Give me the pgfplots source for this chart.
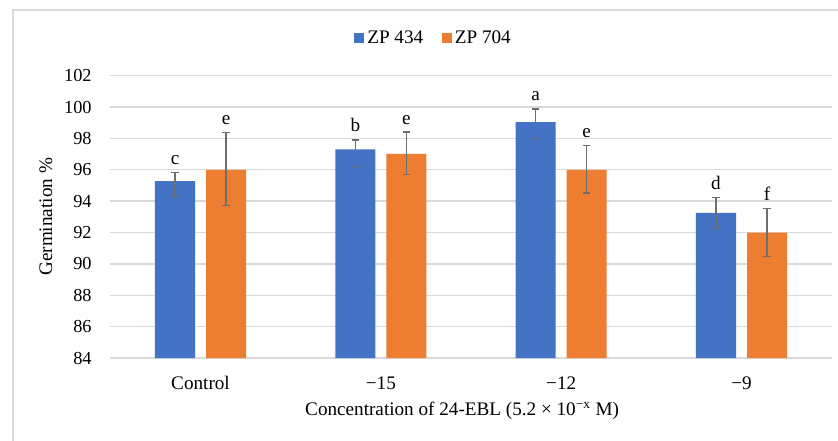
\documentclass[border=0pt]{standalone}
\usepackage{pgfplots}
\pgfplotsset{compat=1.18}
\usepackage{fontspec}
\setmainfont{Liberation Serif}
\definecolor{zpblue}{HTML}{4472C4}
\definecolor{zporange}{HTML}{ED7D31}
\definecolor{gridgray}{HTML}{D9D9D9}
\definecolor{errgray}{HTML}{6E6E6E}
\begin{document}
\begin{tikzpicture}
\useasboundingbox (-66pt,-49.8pt) rectangle (436.8pt,214.8pt);
\fill[white] (-66pt,-49.8pt) rectangle (436.8pt,214.8pt);
\draw[gridgray, line width=0.8pt] (436.8pt,208.8pt) -- (-58.2pt,208.8pt) -- (-58.2pt,-49.8pt);
\begin{axis}[
  at={(0,0)}, anchor=south west,
  scale only axis, width=433pt, height=169.4pt,
  ymin=84, ymax=102, ytick={84,86,...,102},
  yticklabels={84,86,88,90,92,94,96,98,100,102},
  xmin=-0.502, xmax=3.5, xtick={0,1,2,3},
  xticklabels={Control,−15,−12,−9},
  /pgf/number format/assume math mode=true,
  axis line style={draw=none},
  tick style={draw=none},
  ymajorgrids,
  major grid style={gridgray, line width=0.8pt},
  ybar, bar width=0.222,
  font=\fontsize{11.5}{13}\selectfont,
  yticklabel style={font=\fontsize{11}{13}\selectfont, anchor=east, inner sep=0pt, xshift=-10.8pt},
  xticklabel style={font=\fontsize{11.5}{13}\selectfont, anchor=center, inner sep=0pt, yshift=-10.8pt},
  xlabel={Concentration of 24-EBL (5.2 × 10\textsuperscript{−x} M)},
  xlabel style={at={(axis description cs:0.488,-0.1877)}, anchor=center, inner sep=0pt},
  ylabel={Germination \%},
  ylabel style={at={(axis description cs:-0.0887,0.5)}, anchor=center, inner sep=0pt},
  legend columns=2,
  legend style={at={(axis description cs:0.449,1.1335)}, anchor=center, draw=none, fill=none,
    font=\fontsize{11.5}{13}\selectfont,
    /tikz/every even column/.append style={column sep=9pt}},
]
\addplot[fill=zpblue, draw=none, bar shift=-0.1415,
  legend image code/.code={\fill[zpblue] (0pt,-3pt) rectangle (6pt,3pt);},
  error bars/.cd, y dir=both, y explicit,
  error bar style={errgray, line width=0.8pt},
  error mark options={rotate=90, mark size=2.2pt, errgray, line width=0.8pt}]
  table[x=x, y=y, y error plus=ep, y error minus=em] {
x y ep em
0 95.28 0.53 1.00
1 97.30 0.59 1.07
2 99.04 0.83 1.04
3 93.26 0.98 1.02
};
\addlegendentry{ZP 434}
\addplot[fill=zporange, draw=none, bar shift=0.1415,
  legend image code/.code={\fill[zporange] (0pt,-3pt) rectangle (6pt,3pt);},
  error bars/.cd, y dir=both, y explicit,
  error bar style={errgray, line width=0.8pt},
  error mark options={rotate=90, mark size=2.2pt, errgray, line width=0.8pt}]
  table[x=x, y=y, y error plus=ep, y error minus=em] {
x y ep em
0 96.00 2.36 2.27
1 97.02 1.38 1.32
2 96.00 1.53 1.49
3 92.00 1.51 1.51
};
\addlegendentry{ZP 704}
\node[anchor=base, inner sep=0pt] at (axis cs:-0.1415,96.31) {c};
\node[anchor=base, inner sep=0pt] at (axis cs:0.1415,98.86) {e};
\node[anchor=base, inner sep=0pt] at (axis cs:0.8585,98.45) {b};
\node[anchor=base, inner sep=0pt] at (axis cs:1.1415,98.90) {e};
\node[anchor=base, inner sep=0pt] at (axis cs:1.8585,100.39) {a};
\node[anchor=base, inner sep=0pt] at (axis cs:2.1415,98.03) {e};
\node[anchor=base, inner sep=0pt] at (axis cs:2.8585,94.75) {d};
\node[anchor=base, inner sep=0pt] at (axis cs:3.1415,94.07) {f};
\end{axis}
\end{tikzpicture}
\end{document}
